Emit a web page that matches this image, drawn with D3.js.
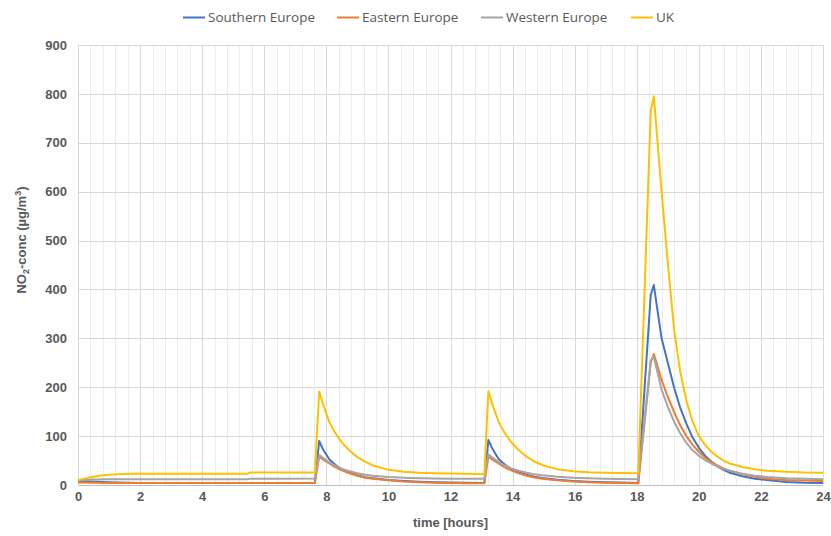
<!DOCTYPE html>
<html><head><meta charset="utf-8">
<script src="https://cdn.jsdelivr.net/npm/d3@7"></script>
<style>body{margin:0;background:#fff}svg{display:block}</style>
</head><body>
<svg id="c" width="831" height="536"></svg>
<script>
const seriesNames = ["Southern Europe","Eastern Europe","Western Europe","UK"];
const seriesColors = ["#4472C4","#ED7D31","#A5A5A5","#FFC000"];
const times = [0,0.2,0.4,0.6,0.8,1.0,1.3,1.6,2.0,3.0,4.0,5.0,5.45,5.55,6.5,7.63,
  7.77,7.9,8.1,8.3,8.5,8.75,9.0,9.25,9.5,10.0,10.5,11.0,11.5,12.0,12.5,13.09,
  13.22,13.35,13.55,13.75,13.95,14.2,14.45,14.7,14.95,15.45,15.95,16.45,16.95,17.45,18.05,
  18.45,18.55,18.8,19.0,19.2,19.4,19.6,19.8,20.0,20.2,20.4,20.6,20.8,21.0,21.4,21.8,22.2,22.8,23.4,24.0];
const southern = [8,7.5,7,6.5,6,5.5,5,4.5,4,4,4,4,4,4,4,4,
  90,72,52,41,32,25,20,16,14,10,8,6.5,5.5,5,4.5,4,
  92,74,53,42,33,26,21,17,14.5,10.5,8,6.5,5.5,5,4,
  388,409,300,250,200,158,125,97,76,60,48,38,31,25,18,13,10,6,4.5,4];
const eastern = [5,5,4.5,4.5,4,4,4,4,4,4,4,4,4,4,4,4,
  58,52,44,36,30,24,19,15,13,9.5,7,5.5,4.5,4,3.5,3.5,
  58,52,44,36,30,24,19,15.5,13,9.5,7,5.5,4.5,4,3.5,
  250,268,215,180,150,122,100,82,68,56,47,40,34,29,22,17,13,10,9,8];
const western = [9,10,11,11.5,12,12,12,12,12,12,12,12,12,13,13,13.5,
  62,55,46,39,33,28,24,21,19,16.5,15,14,13.5,13,13,13,
  63,56,47,40,34,29,25,22,20,17,15,14,13,12.5,12,
  255,262,195,160,130,106,86,71,60,51,44,38,33,29,23,19,16.5,14,13,12];
const uk = [10,13,16,18,20,21,22,23,23,23,23,23,23,25.5,25.5,25.5,
  191,164,128,105,87,70,57,48,40,31,27,25,24,23.5,23,22.5,
  192,165,129,106,88,71,58,48,41,32,28,26,25,24.5,24,
  765,795,600,455,320,232,172,130,100,82,68,58,50,44,37,32,29,27,25.5,25];
const xTicks = [0,2,4,6,8,10,12,14,16,18,20,22,24];
const yTicks = [0,100,200,300,400,500,600,700,800,900];

const svg = d3.select("#c");
const x = d3.scaleLinear().domain([0,24]).range([78,823]);
const y = d3.scaleLinear().domain([0,900]).range([485,45]);
const px = v => Math.round(v)+0.5;

// minor vertical gridlines
const minor = d3.range(0,24.001,0.4).filter(t => Math.abs(t/2 - Math.round(t/2)) > 1e-6);
svg.append("g").selectAll("line").data(minor).join("line")
  .attr("x1",d=>px(x(d))).attr("x2",d=>px(x(d))).attr("y1",y(900)).attr("y2",y(0))
  .attr("stroke","#ededed").attr("stroke-width",1);
// major vertical gridlines
svg.append("g").selectAll("line").data(xTicks).join("line")
  .attr("x1",d=>px(x(d))).attr("x2",d=>px(x(d))).attr("y1",y(900)).attr("y2",y(0))
  .attr("stroke","#d9d9d9").attr("stroke-width",1);
// horizontal gridlines
svg.append("g").selectAll("line").data(yTicks).join("line")
  .attr("x1",x(0)).attr("x2",x(24)).attr("y1",d=>px(y(d))).attr("y2",d=>px(y(d)))
  .attr("stroke",d=>d===0?"#bfbfbf":"#d9d9d9").attr("stroke-width",1);

// axes labels via d3 axes
const font = "'Liberation Sans', Arial, sans-serif";
const xAxis = svg.append("g").attr("transform",`translate(0,${y(0)})`)
  .call(d3.axisBottom(x).tickValues(xTicks).tickSize(0).tickPadding(7).tickFormat(d3.format("d")));
const yAxis = svg.append("g").attr("transform",`translate(${x(0)},0)`)
  .call(d3.axisLeft(y).tickValues(yTicks).tickSize(0).tickPadding(11).tickFormat(d3.format("d")));
[xAxis,yAxis].forEach(g=>{
  g.select(".domain").remove();
  g.selectAll("text").attr("font-family",font).attr("font-size",13).attr("font-weight","bold").attr("fill","#595959");
});

// lines
const allSeries = [southern, eastern, western, uk];
const line = d3.line().x((d,i)=>x(times[i])).y(d=>y(d));
svg.append("g").selectAll("path").data(allSeries).join("path")
  .attr("d",d=>line(d)).attr("fill","none")
  .attr("stroke",(d,i)=>seriesColors[i]).attr("stroke-width",2).attr("stroke-linejoin","round");

// axis titles
svg.append("text").attr("x",(x(0)+x(24))/2).attr("y",527).attr("text-anchor","middle")
  .attr("font-family",font).attr("font-size",13).attr("font-weight","bold").attr("fill","#595959")
  .text("time [hours]");
const yt = svg.append("text").attr("transform",`translate(26,240) rotate(-90)`)
  .attr("text-anchor","middle").attr("font-family",font).attr("font-size",13).attr("font-weight","bold").attr("fill","#595959");
yt.append("tspan").text("NO");
yt.append("tspan").attr("font-size",9).attr("dy",3).text("2");
yt.append("tspan").attr("dy",-3).text("-conc (µg/m");
yt.append("tspan").attr("font-size",9).attr("dy",-5).text("3");
yt.append("tspan").attr("dy",5).text(")");

// legend
const legX = [183,337,481,631];
const leg = svg.append("g").selectAll("g").data(seriesNames).join("g")
  .attr("transform",(d,i)=>`translate(${legX[i]},17)`);
leg.append("line").attr("x1",0).attr("x2",22).attr("y1",0.5).attr("y2",0.5)
  .attr("stroke",(d,i)=>seriesColors[i]).attr("stroke-width",2);
leg.append("text").attr("x",25).attr("y",5).attr("font-family","'Open Sans', sans-serif")
  .attr("font-size",13.5).attr("fill","#595959").text(d=>d);
</script>
</body></html>
